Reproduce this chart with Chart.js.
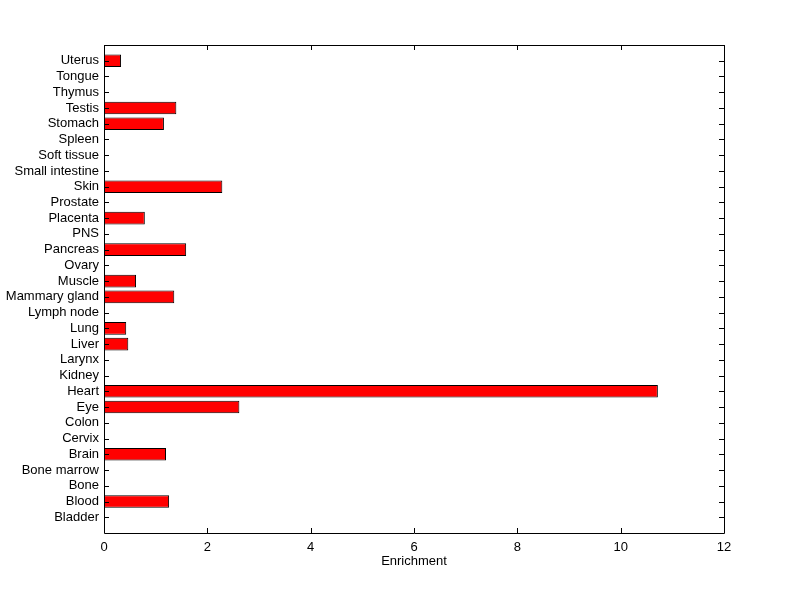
<!DOCTYPE html>
<html>
<head>
<meta charset="utf-8">
<script src="https://cdn.jsdelivr.net/npm/chart.js@4.4.0/dist/chart.umd.min.js"></script>
<style>
  html, body { margin: 0; padding: 0; background: #fff; }
  #wrap { width: 800px; height: 599px; }
</style>
</head>
<body>
<div id="wrap"><canvas id="enrich"></canvas></div>
<script>
    "use strict";

    // Tissues, bottom to top
    var tissues = ["Bladder", "Blood", "Bone", "Bone marrow", "Brain", "Cervix", "Colon", "Eye",
        "Heart", "Kidney", "Larynx", "Liver", "Lung", "Lymph node", "Mammary gland", "Muscle",
        "Ovary", "Pancreas", "PNS", "Placenta", "Prostate", "Skin", "Small intestine",
        "Soft tissue", "Spleen", "Stomach", "Testis", "Thymus", "Tongue", "Uterus"];
    var enrichment = [0, 1.26, 0, 0, 1.20, 0, 0, 2.62,
        10.72, 0, 0, 0.47, 0.43, 0, 1.36, 0.62,
        0, 1.59, 0, 0.79, 0, 2.29, 0,
        0, 0, 1.16, 1.40, 0, 0, 0.33];
    var xTicks = [0, 2, 4, 6, 8, 10, 12];

    var font = { family: "Arial, 'Liberation Sans', sans-serif", size: 13 };

    // MATLAB-like frame with inward ticks on all four sides
    var frameTicks = {
        id: "frameTicks",
        afterDraw: function (chart) {
            var c = chart.ctx, a = chart.chartArea;
            var xs = chart.scales.x, ys = chart.scales.y;
            var len = 5;
            c.save();
            c.strokeStyle = "#000";
            c.lineWidth = 1;
            c.beginPath();
            c.rect(Math.round(a.left) + 0.5, Math.round(a.top) + 0.5,
                Math.round(a.right - a.left), Math.round(a.bottom - a.top));
            xTicks.forEach(function (v) {
                var px = Math.round(xs.getPixelForValue(v)) + 0.5;
                c.moveTo(px, a.bottom); c.lineTo(px, a.bottom - len);
                c.moveTo(px, a.top); c.lineTo(px, a.top + len);
            });
            tissues.forEach(function (t, i) {
                var py = Math.round(ys.getPixelForValue(i + 1)) + 0.5;
                c.moveTo(a.left, py); c.lineTo(a.left + len, py);
                c.moveTo(a.right, py); c.lineTo(a.right - len, py);
            });
            c.stroke();
            c.restore();
        }
    };

    var ctx = document.getElementById("enrich").getContext("2d");
    var myChart = new Chart(ctx, {
        type: "bar",
        data: {
            datasets: [{
                data: tissues.map(function (t, i) { return { x: enrichment[i], y: i + 1 }; }),
                backgroundColor: "#ff0000",
                borderColor: "#000000",
                borderWidth: 1,
                borderSkipped: "start",
                categoryPercentage: 1,
                barPercentage: 0.8
            }]
        },
        options: {
            indexAxis: "y",
            responsive: true,
            maintainAspectRatio: false,
            animation: false,
            layout: { padding: { top: 45, right: 76, left: 0, bottom: 30 } },
            plugins: { legend: { display: false }, tooltip: { enabled: false } },
            scales: {
                x: {
                    type: "linear",
                    min: 0, max: 12,
                    afterBuildTicks: function (s) { s.ticks = xTicks.map(function (v) { return { value: v }; }); },
                    afterFit: function (s) { s.height = 36; },
                    grid: { display: false, drawTicks: false },
                    border: { display: false },
                    ticks: { color: "#000", font: font, padding: 7, maxRotation: 0 },
                    title: { display: true, text: "Enrichment", color: "#000", font: font, padding: 0 }
                },
                y: {
                    type: "linear",
                    offset: false,
                    min: 0, max: 31,
                    afterBuildTicks: function (s) { s.ticks = tissues.map(function (t, i) { return { value: i + 1 }; }); },
                    afterFit: function (s) { s.width = 104; },
                    grid: { display: false, drawTicks: false },
                    border: { display: false },
                    ticks: {
                        color: "#000", font: font, padding: 5, autoSkip: false,
                        callback: function (v) { return tissues[v - 1] || ""; }
                    }
                }
            }
        },
        plugins: [frameTicks]
    });
</script>
</body>
</html>
